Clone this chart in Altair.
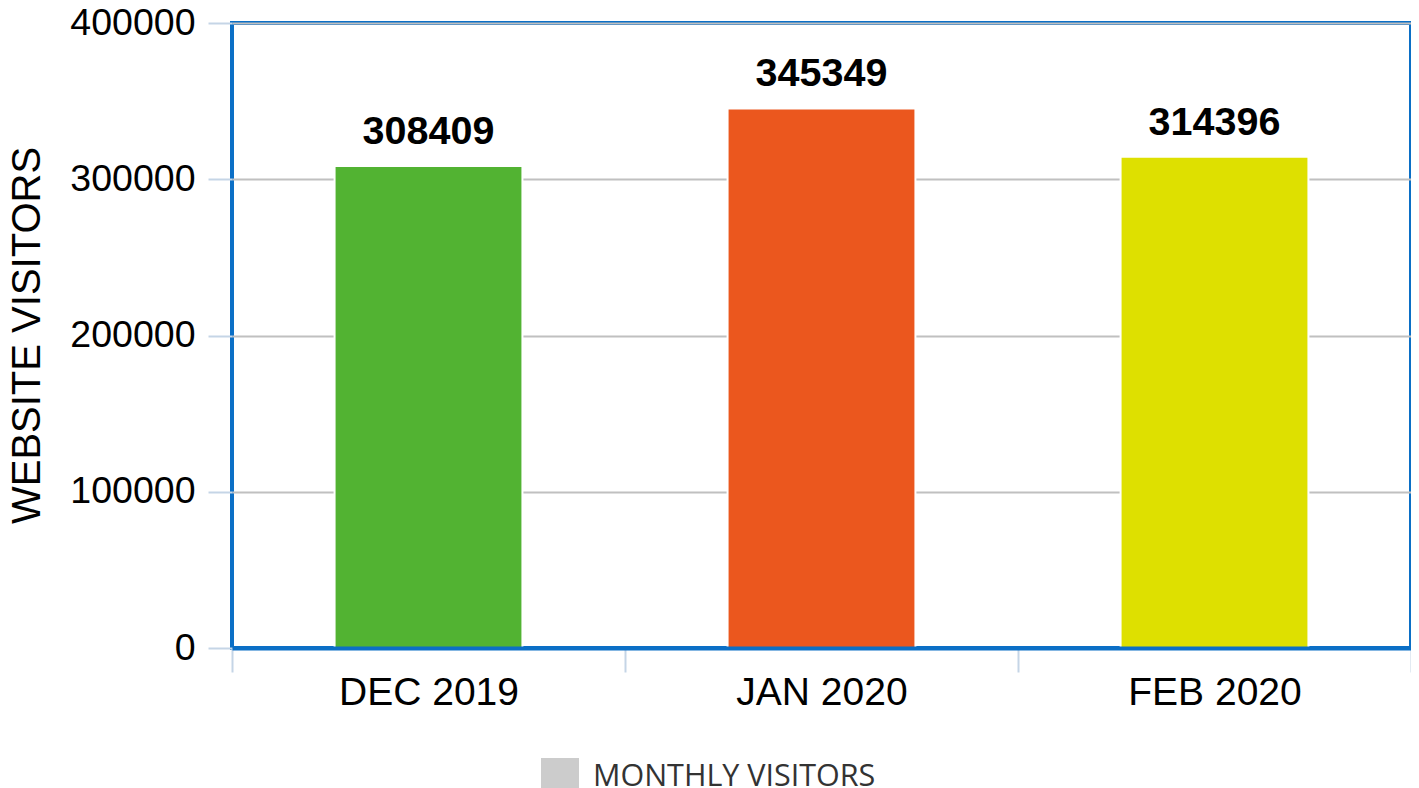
import altair as alt
import pandas as pd

months = ["DEC 2019", "JAN 2020", "FEB 2020"]
visitors = [308409, 345349, 314396]
bar_colors = ["#52B332", "#EB571E", "#DEE000"]
series_name = "MONTHLY VISITORS"
y_ticks = [0, 100000, 200000, 300000, 400000]

df = pd.DataFrame({"month": months, "visitors": visitors, "color": bar_colors})
legend_df = pd.DataFrame({"month": [months[0]], "visitors": [0], "series": [series_name]})

BLUE = "#0b6fc6"
TICK = "#c5d5e6"
FONT = "Liberation Sans"

x = alt.X(
    "month:N", sort=months, title=None,
    scale=alt.Scale(paddingInner=0, paddingOuter=0),
    axis=alt.Axis(labelAngle=0, tickBand="extent", tickSize=24, tickWidth=2, tickColor=TICK,
                  labelFont=FONT, labelFontSize=39, labelColor="#000000", labelPadding=1,
                  domainColor=BLUE, domainWidth=4, zindex=1, grid=False),
)
y = alt.Y(
    "visitors:Q", title="WEBSITE VISITORS",
    scale=alt.Scale(domain=[0, 400000], nice=False),
    axis=alt.Axis(values=y_ticks, format="d", tickSize=24, tickWidth=2, tickColor=TICK,
                  labelFont=FONT, labelFontSize=37.5, labelColor="#000000", labelPadding=13,
                  domain=False, grid=True, gridColor="#c0c0c0", gridWidth=2,
                  titleFont=FONT, titleFontSize=40, titleFontWeight="normal", titleColor="#000000",
                  titleAngle=270, titleAlign="center", titleBaseline="middle",
                  titleX=-205, titleY=312),
)

bars = alt.Chart(df).mark_bar(width=alt.RelativeBandSize(0.478), stroke="white", strokeWidth=2).encode(
    x=x, y=y, color=alt.Color("color:N", scale=None)
)

labels = alt.Chart(df).mark_text(
    dy=-22, baseline="alphabetic", font=FONT, fontSize=39.5, fontWeight="bold", color="#000000"
).encode(x=x, y=y, text=alt.Text("visitors:Q", format="d"))

legend_layer = alt.Chart(legend_df).mark_bar().encode(
    x=x, y=y,
    fill=alt.Fill("series:N", scale=alt.Scale(range=["#cccccc"]),
                  legend=alt.Legend(title=None, orient="none", legendX=309, legendY=735,
                                    symbolType="square", symbolSize=1444, symbolStrokeWidth=0,
                                    padding=0, labelOffset=14, labelFont="Open Sans",
                                    labelFontSize=30.5, labelColor="#333333", labelLimit=0)),
)

chart = alt.layer(bars, labels, legend_layer).properties(
    width=1179, height=625,
    autosize=alt.AutoSizeParams(type="none"),
    padding={"left": 224, "top": 15, "right": 0, "bottom": 140},
).configure_view(stroke=BLUE, strokeWidth=4)

chart.save("out.html", embed_options={"renderer": "svg", "actions": False})
